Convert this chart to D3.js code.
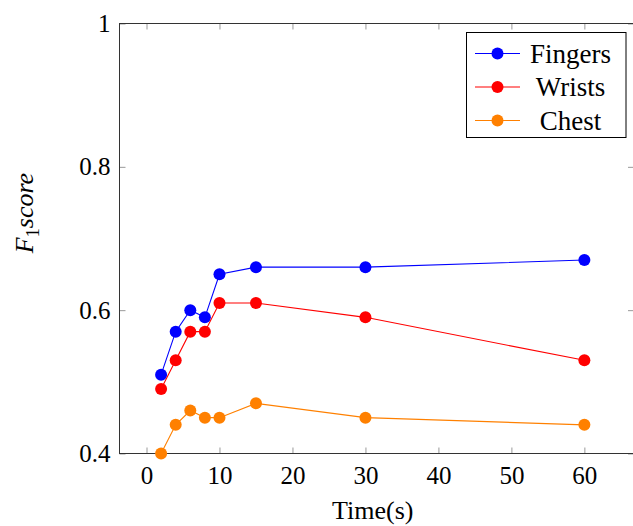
<!DOCTYPE html>
<html>
<head>
<meta charset="utf-8">
<script src="https://cdn.jsdelivr.net/npm/d3@7"></script>
<style>
  body { margin: 0; background: #fff; }
  svg { display: block; }
  svg text { font-family: "Liberation Serif", "Times New Roman", serif; }
</style>
</head>
<body>
<svg id="chart"></svg>
<script>
// data
const times = [2, 4, 6, 8, 10, 15, 30, 60];
const fingers = [0.51, 0.57, 0.60, 0.59, 0.65, 0.66, 0.66, 0.67];
const wrists = [0.49, 0.53, 0.57, 0.57, 0.61, 0.61, 0.59, 0.53];
const chest = [0.40, 0.44, 0.46, 0.45, 0.45, 0.47, 0.45, 0.44];
const seriesNames = ['Fingers', 'Wrists', 'Chest'];
const seriesColors = ['#0000ff', '#ff0000', '#ff8000'];
const xTicks = [0, 10, 20, 30, 40, 50, 60];
const yTicks = [0.4, 0.6, 0.8, 1];

const serif = '"Liberation Serif", "Times New Roman", serif';

const series = [fingers, wrists, chest].map((vals, i) => ({
    name: seriesNames[i],
    color: seriesColors[i],
    points: times.map((t, j) => ({ x: t, y: vals[j] }))
}));

const width = 633, height = 526;
const svg = d3.select('#chart')
    .attr('width', width)
    .attr('height', height);

// plot frame (right edge sits just past the window, as in the reference)
const frame = { left: 119.5, right: 634, top: 23.5, bottom: 453.5 };

const x = d3.scaleLinear().domain([-3.7, 66.8]).range([frame.left, frame.right]);
const y = d3.scaleLinear().domain([0.4, 1]).range([frame.bottom, frame.top]);

const tickLen = 6;
const tickColor = '#999';

// x ticks, bottom and mirrored on top
const xAxisB = svg.append('g').attr('transform', `translate(0,${frame.bottom})`)
    .call(d3.axisBottom(x).tickValues(xTicks).tickSize(-tickLen).tickPadding(13).tickFormat(d3.format('d')));
const xAxisT = svg.append('g').attr('transform', `translate(0,${frame.top})`)
    .call(d3.axisTop(x).tickValues(xTicks).tickSize(-tickLen).tickFormat(''));

// y ticks, left and mirrored on right
const yAxisL = svg.append('g').attr('transform', `translate(${frame.left},0)`)
    .call(d3.axisLeft(y).tickValues(yTicks).tickSize(-tickLen).tickPadding(9).tickFormat(d => d === 1 ? '1' : d3.format('.1f')(d)));
const yAxisR = svg.append('g').attr('transform', `translate(${frame.right},0)`)
    .call(d3.axisRight(y).tickValues(yTicks).tickSize(-tickLen).tickFormat(''));

[xAxisB, xAxisT, yAxisL, yAxisR].forEach(g => {
    g.attr('font-family', null).attr('font-size', null);
    g.select('.domain').remove();
    g.selectAll('.tick line').attr('stroke', tickColor).attr('stroke-width', 1);
    g.selectAll('.tick text').style('font-size', '25px').attr('fill', '#000');
});

// frame
svg.append('rect')
    .attr('x', frame.left).attr('y', frame.top)
    .attr('width', frame.right - frame.left).attr('height', frame.bottom - frame.top)
    .attr('fill', 'none').attr('stroke', '#333').attr('stroke-width', 1);

// lines + markers
const line = d3.line().x(d => x(d.x)).y(d => y(d.y));
const g = svg.append('g');
series.forEach(s => {
    g.append('path')
        .datum(s.points)
        .attr('d', line)
        .attr('fill', 'none')
        .attr('stroke', s.color)
        .attr('stroke-width', 1.1);
    g.selectAll(null)
        .data(s.points)
        .enter()
        .append('circle')
        .attr('cx', d => x(d.x))
        .attr('cy', d => y(d.y))
        .attr('r', 6)
        .attr('fill', s.color);
});

// axis labels
svg.append('text')
    .attr('x', (frame.left + frame.right) / 2 - 4)
    .attr('y', 519)
    .attr('text-anchor', 'middle')
    .style('font-size', '26px')
    .text('Time(s)');

const yl = svg.append('text')
    .attr('transform', 'translate(33,213) rotate(-90)')
    .attr('text-anchor', 'middle')
    .style('font-size', '26px')
    .style('font-style', 'italic');
yl.append('tspan').text('F');
yl.append('tspan').attr('dy', 6).style('font-size', '18px').style('font-style', 'normal').text('1');
yl.append('tspan').attr('dy', -6).text('score');

// legend
const lg = svg.append('g').attr('transform', 'translate(466.5,32.5)');
lg.append('rect')
    .attr('width', 159.5).attr('height', 105)
    .attr('fill', '#fff').attr('stroke', '#000').attr('stroke-width', 1);
series.forEach((s, i) => {
    const cy = 21 + i * 33.5;
    lg.append('line')
        .attr('x1', 8.5).attr('x2', 53.5)
        .attr('y1', cy).attr('y2', cy)
        .attr('stroke', s.color).attr('stroke-width', 1.1);
    lg.append('circle')
        .attr('cx', 31).attr('cy', cy).attr('r', 6)
        .attr('fill', s.color);
    lg.append('text')
        .attr('x', 104).attr('y', cy)
        .attr('dy', '0.35em')
        .attr('text-anchor', 'middle')
        .style('font-size', '27px')
        .text(s.name);
});
</script>
</body>
</html>
